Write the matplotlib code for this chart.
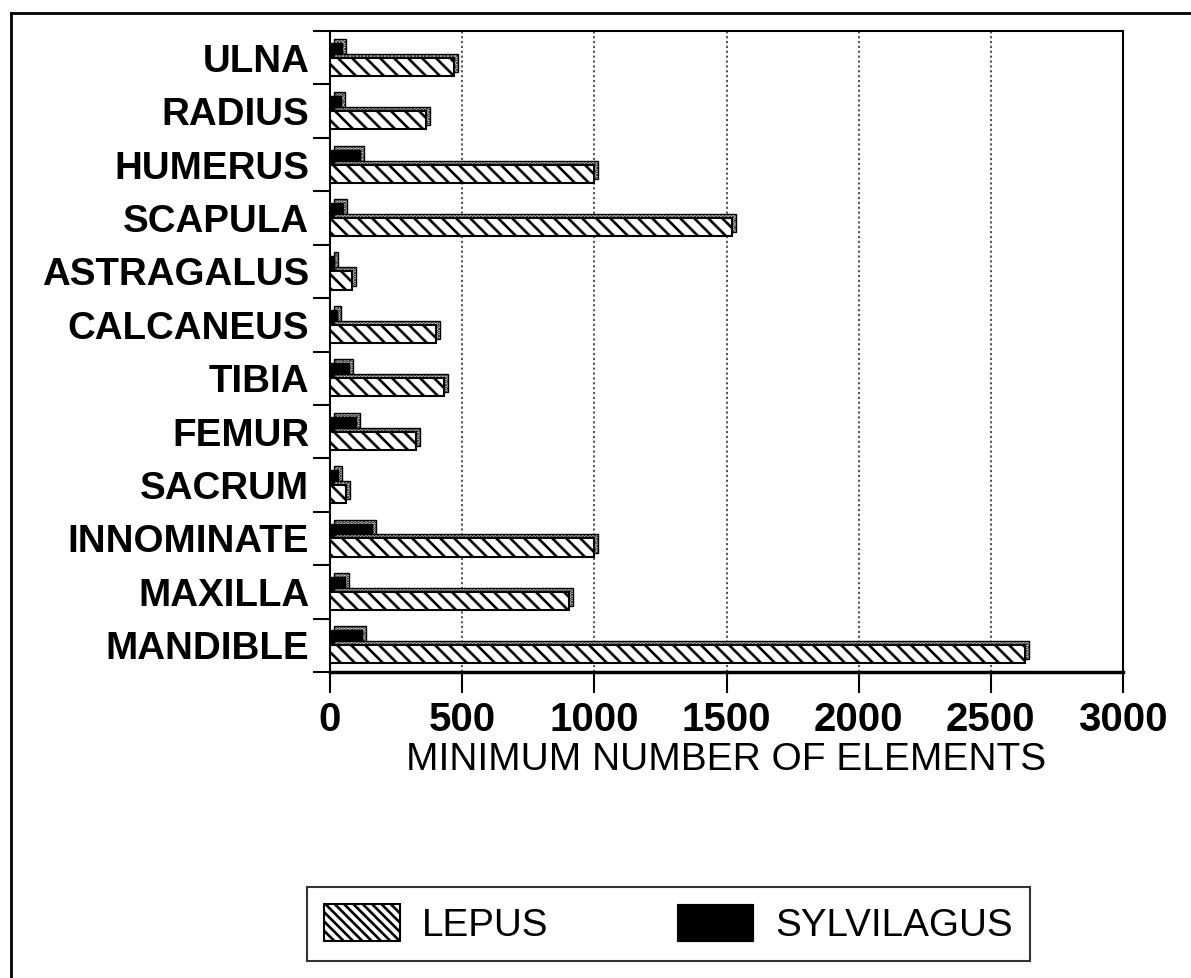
import matplotlib
matplotlib.use("Agg")
import matplotlib.pyplot as plt
import matplotlib.transforms as mtransforms
from matplotlib.lines import Line2D
from matplotlib.patches import Patch
import numpy as np

DPI = 84
S = 100.0 / DPI  # converts "points at 100 dpi" to points at DPI

plt.rcParams['font.family'] = ['Liberation Sans', 'DejaVu Sans']
plt.rcParams['hatch.linewidth'] = 1.9 * S

categories = ["ULNA", "RADIUS", "HUMERUS", "SCAPULA", "ASTRAGALUS", "CALCANEUS",
              "TIBIA", "FEMUR", "SACRUM", "INNOMINATE", "MAXILLA", "MANDIBLE"]
lepus = [470, 365, 1000, 1520, 85, 400, 430, 325, 60, 1000, 905, 2630]
sylvilagus = [45, 40, 115, 50, 15, 25, 70, 100, 30, 160, 55, 120]
xticks = [0, 500, 1000, 1500, 2000, 2500, 3000]

W, H = 1191, 978
fig = plt.figure(figsize=(W / DPI, H / DPI), dpi=DPI)
ax = fig.add_axes([330 / W, 1 - 672 / H, (1123 - 330) / W, (672 - 31) / H])

y = np.arange(len(categories))
bh = 0.34
lep_y = y + 0.17
syl_y = y - 0.11

depth = mtransforms.offset_copy(ax.transData, fig=fig, x=4, y=4, units='dots')

# Sylvilagus (behind)
ax.barh(syl_y, sylvilagus, height=bh, color='white', edgecolor='black',
        linewidth=1.0 * S, hatch='....', transform=depth, zorder=2)
ax.barh(syl_y, sylvilagus, height=bh, color='black', edgecolor='black',
        linewidth=1.0 * S, zorder=3)
# Lepus (front)
ax.barh(lep_y, lepus, height=bh, color='white', edgecolor='black',
        linewidth=1.0 * S, hatch='....', transform=depth, zorder=4)
ax.barh(lep_y, lepus, height=bh, color='white', edgecolor='black',
        linewidth=1.5 * S, hatch='\\\\', zorder=5)

ax.set_xlim(0, 3000)
ax.set_ylim(len(categories) - 0.5, -0.5)
ax.set_xticks(xticks)
ax.set_xticklabels([str(v) for v in xticks], fontsize=29 * S, fontweight='bold')
ax.set_yticks(y)
ax.set_yticklabels(categories, fontsize=27.7 * S, fontweight='bold')
ax.tick_params(axis='y', length=0, pad=15 * S)
ax.set_yticks(np.arange(len(categories) + 1) - 0.5, minor=True)
ax.tick_params(axis='y', which='minor', length=12 * S, width=1.5 * S, direction='out')
ax.tick_params(axis='x', length=15 * S, width=1.5 * S, direction='out', pad=6 * S)

for v in xticks[1:-1]:
    ax.axvline(v, color='#444444', linestyle=(0, (1.2, 1.5)), linewidth=1.3 * S, zorder=1)

for s in ax.spines.values():
    s.set_linewidth(1.5 * S)
ax.spines['bottom'].set_linewidth(2.5 * S)

ax.set_xlabel("MINIMUM NUMBER OF ELEMENTS", fontsize=28 * S, labelpad=2 * S)

# outer frame
fig.add_artist(Line2D([11 / W, 11 / W], [0, 1 - 13 / H], transform=fig.transFigure,
                      color='black', linewidth=2 * S))
fig.add_artist(Line2D([11 / W, 1], [1 - 13 / H, 1 - 13 / H], transform=fig.transFigure,
                      color='black', linewidth=2 * S))

handles = [Patch(facecolor='white', edgecolor='black', hatch='\\\\\\', linewidth=1.5 * S),
           Patch(facecolor='black', edgecolor='black')]
leg = fig.legend(handles, ["LEPUS", "SYLVILAGUS"], ncol=2, loc='center',
                 bbox_to_anchor=(668.5 / W, 1 - 924 / H), fontsize=27.8 * S,
                 frameon=True, fancybox=False, edgecolor='black',
                 handlelength=1.97, handleheight=1.11, handletextpad=0.57,
                 columnspacing=3.34, borderpad=0.44, borderaxespad=0)
leg.get_frame().set_linewidth(1.5 * S)

fig.savefig("out.png", dpi=DPI)
